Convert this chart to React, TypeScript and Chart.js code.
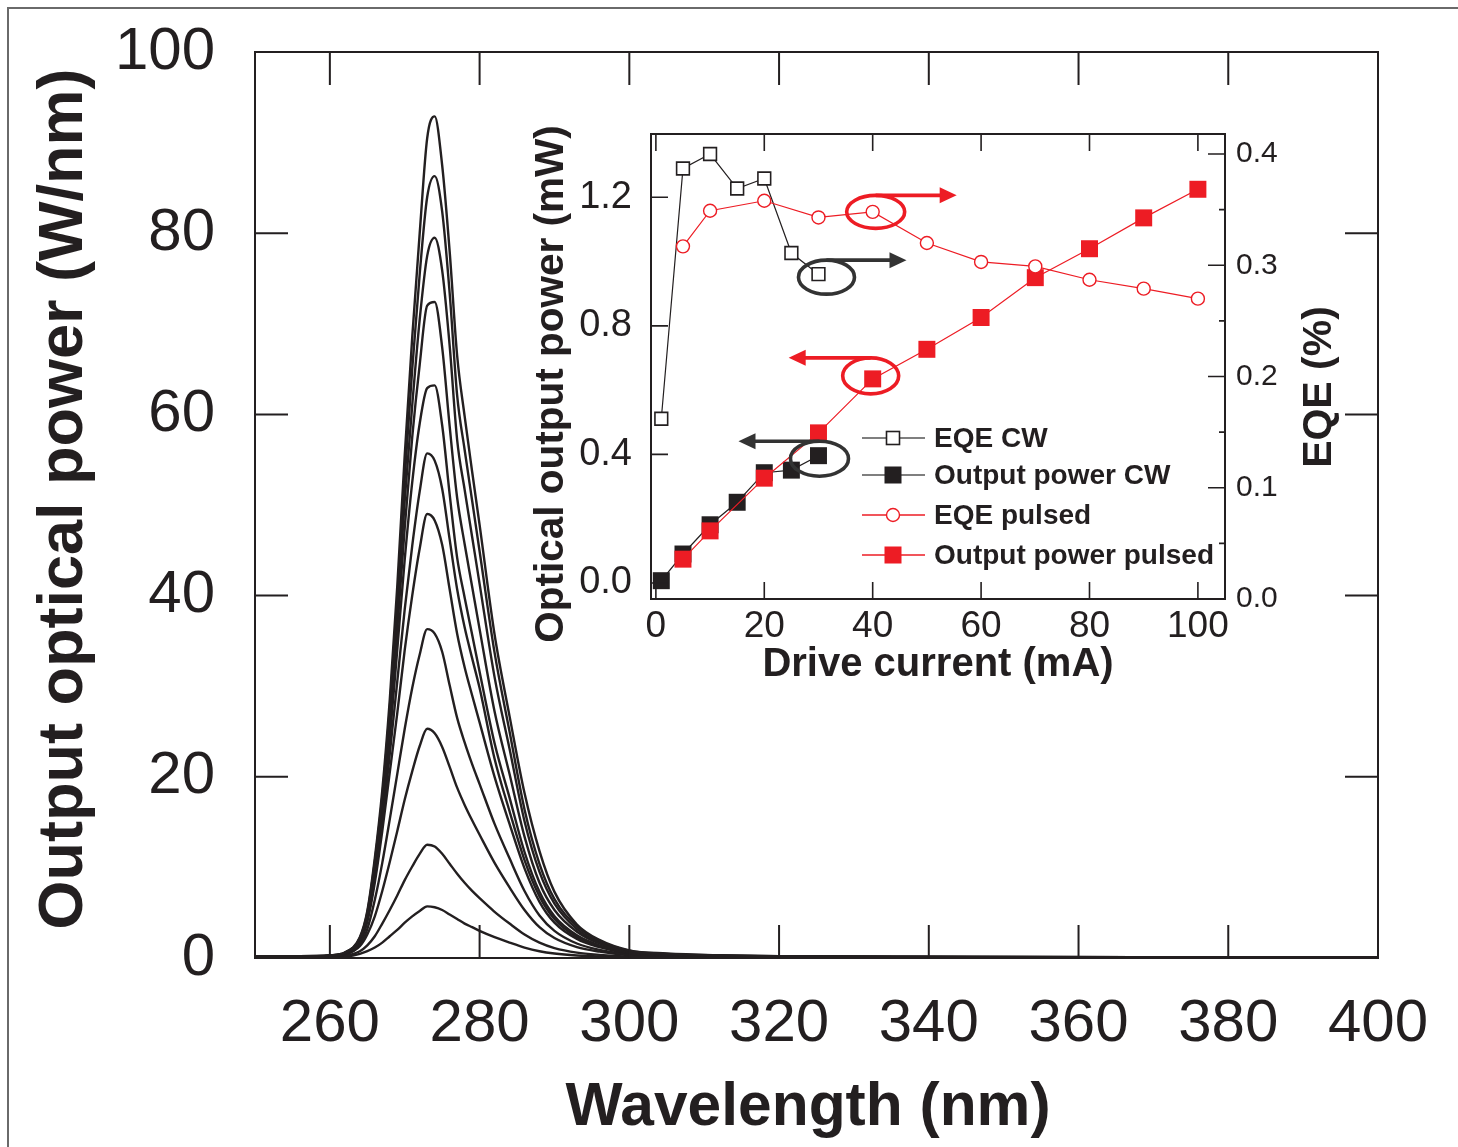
import React, { useEffect, useRef } from 'react';
import { Chart, registerables } from 'chart.js';

Chart.register(...registerables);

const INK = '#231F20';
const RED = '#ED1C24';
const FONT = "'Liberation Sans', Arial, Helvetica, sans-serif";

// ---------- Main chart: emission spectra ----------
const wavelengthNm = [250, 256, 260, 262, 264, 265, 266, 267, 268, 269, 270, 271, 272, 273, 274, 275, 276, 277, 278, 279, 280, 282, 284, 286, 288, 290, 293, 296, 300, 305, 312, 320, 340, 370, 400];

const spectrum1 = [0.2, 0.2, 0.3, 0.6, 2.3, 5.2, 11.0, 18.5, 28.5, 41.0, 55.5, 68.5, 80.0, 90.5, 92.9, 87.5, 78.0, 66.5, 59.8, 53.7, 47.8, 35.7, 26.7, 18.2, 11.8, 7.3, 3.7, 2.0, 0.85, 0.5, 0.3, 0.2, 0.14, 0.1, 0.1];
const spectrum2 = [0.2, 0.2, 0.3, 0.6, 2.2, 5.0, 10.6, 17.8, 27.5, 39.5, 53.0, 65.0, 75.5, 84.0, 86.3, 82.4, 73.4, 62.1, 56.1, 50.5, 44.9, 33.7, 25.0, 16.4, 10.4, 6.5, 3.5, 1.9, 0.8, 0.45, 0.28, 0.19, 0.13, 0.09, 0.09];
const spectrum3 = [0.15, 0.15, 0.25, 0.55, 2.1, 4.8, 10.2, 17.1, 26.5, 38.0, 50.5, 61.0, 70.5, 77.5, 79.5, 75.9, 67.6, 57.2, 51.7, 46.5, 41.3, 31.0, 23.1, 15.1, 9.5, 6.0, 3.2, 1.7, 0.7, 0.4, 0.25, 0.17, 0.12, 0.08, 0.08];
const spectrum4 = [0.15, 0.15, 0.22, 0.55, 2.0, 4.6, 9.8, 16.5, 25.5, 36.2, 47.5, 57.5, 65.5, 72.0, 72.4, 67.4, 58.7, 50.8, 45.7, 41.0, 36.3, 27.2, 20.3, 13.4, 8.3, 5.3, 2.9, 1.6, 0.65, 0.37, 0.23, 0.15, 0.11, 0.07, 0.07];
const spectrum5 = [0.13, 0.13, 0.2, 0.5, 1.9, 4.4, 9.3, 15.7, 24.2, 34.0, 44.0, 52.5, 59.0, 62.9, 63.2, 58.8, 51.2, 44.2, 39.8, 35.7, 31.6, 23.7, 17.7, 11.7, 7.3, 4.6, 2.5, 1.4, 0.57, 0.32, 0.2, 0.13, 0.1, 0.06, 0.06];
const spectrum6 = [0.11, 0.11, 0.2, 0.5, 1.8, 4.2, 8.8, 14.9, 22.5, 30.5, 38.5, 45.5, 51.5, 55.7, 54.9, 51.8, 46.2, 40.7, 36.5, 33.1, 29.8, 22.0, 16.2, 10.8, 6.8, 4.3, 2.3, 1.3, 0.55, 0.3, 0.18, 0.12, 0.09, 0.06, 0.05];
const spectrum7 = [0.1, 0.1, 0.18, 0.45, 1.7, 4.0, 8.3, 14.0, 20.5, 27.0, 34.0, 40.0, 45.2, 49.0, 48.3, 45.6, 40.7, 35.8, 32.1, 29.0, 26.0, 20.0, 14.8, 9.9, 6.2, 3.9, 2.1, 1.2, 0.5, 0.27, 0.16, 0.11, 0.08, 0.05, 0.05];
const spectrum8 = [0.08, 0.08, 0.15, 0.4, 1.45, 3.2, 6.4, 10.5, 15.3, 20.3, 25.3, 29.8, 33.5, 36.3, 35.8, 33.8, 30.1, 26.5, 23.8, 21.4, 19.2, 14.8, 11.0, 7.4, 4.7, 3.0, 1.6, 0.9, 0.4, 0.2, 0.12, 0.08, 0.06, 0.04, 0.04];
const spectrum9 = [0.07, 0.07, 0.12, 0.35, 1.3, 2.6, 4.6, 7.4, 10.6, 14.0, 17.5, 20.6, 23.4, 25.3, 24.8, 23.3, 21.1, 18.8, 16.9, 15.2, 13.6, 10.5, 7.8, 5.3, 3.4, 2.2, 1.2, 0.7, 0.3, 0.15, 0.09, 0.06, 0.05, 0.03, 0.03];
const spectrum10 = [0.04, 0.04, 0.07, 0.22, 0.75, 1.4, 2.4, 3.8, 5.3, 6.9, 8.6, 10.1, 11.5, 12.5, 12.3, 11.5, 10.4, 9.3, 8.3, 7.4, 6.6, 5.1, 3.8, 2.6, 1.7, 1.1, 0.6, 0.35, 0.15, 0.08, 0.05, 0.04, 0.03, 0.02, 0.02];
const spectrum11 = [0.02, 0.02, 0.04, 0.12, 0.45, 0.75, 1.15, 1.7, 2.4, 3.1, 3.9, 4.6, 5.2, 5.7, 5.6, 5.3, 4.8, 4.3, 3.8, 3.4, 3.0, 2.3, 1.7, 1.15, 0.75, 0.5, 0.28, 0.16, 0.08, 0.04, 0.03, 0.02, 0.02, 0.01, 0.01];

const spectra = [spectrum1, spectrum2, spectrum3, spectrum4, spectrum5, spectrum6, spectrum7, spectrum8, spectrum9, spectrum10, spectrum11];

const mainXTicks = [260, 280, 300, 320, 340, 360, 380, 400];
const mainYTicks = [0, 20, 40, 60, 80, 100];

// ---------- Inset: drive current dependence ----------
const currentCw = [1, 5, 10, 15, 20, 25, 30];
const eqeCw = [0.162, 0.387, 0.4, 0.369, 0.378, 0.311, 0.292];
const powerCw = [0.007, 0.09, 0.181, 0.251, 0.343, 0.351, 0.396];

const currentPulsed = [5, 10, 20, 30, 40, 50, 60, 70, 80, 90, 100];
const eqePulsed = [0.317, 0.349, 0.358, 0.343, 0.348, 0.32, 0.303, 0.299, 0.287, 0.279, 0.27];
const powerPulsed = [0.074, 0.162, 0.326, 0.467, 0.635, 0.727, 0.826, 0.95, 1.04, 1.136, 1.225];

const insetXTicks = [0, 20, 40, 60, 80, 100];
const powerTicks = [0, 0.4, 0.8, 1.2];
const eqeTicks = [0, 0.1, 0.2, 0.3, 0.4];
const eqeMinorTicks = [0.05, 0.15, 0.25, 0.35];

const legendLabels = ['EQE CW', 'Output power CW', 'EQE pulsed', 'Output power pulsed'];

function fixBox(size: { width?: number; height?: number }) {
  return (s: any) => {
    if (size.width !== undefined) s.width = size.width;
    if (size.height !== undefined) s.height = size.height;
    s.paddingTop = 0;
    s.paddingBottom = 0;
    s.paddingLeft = 0;
    s.paddingRight = 0;
  };
}

function drawText(ctx: CanvasRenderingContext2D, text: string, x: number, y: number, size: number, rotate: boolean) {
  ctx.save();
  ctx.translate(x, y);
  if (rotate) ctx.rotate(-Math.PI / 2);
  ctx.font = `bold ${size}px ${FONT}`;
  ctx.fillStyle = INK;
  ctx.textAlign = 'center';
  ctx.textBaseline = 'middle';
  ctx.fillText(text, 0, 0);
  ctx.restore();
}

const mainFramePlugin = {
  id: 'mainFrame',
  afterDatasetsDraw(chart: any) {
    const { ctx, chartArea: a, scales } = chart;
    ctx.save();
    ctx.strokeStyle = INK;
    ctx.lineWidth = 2;
    ctx.strokeRect(a.left, a.top, a.right - a.left, a.bottom - a.top);
    ctx.beginPath();
    const len = 33;
    mainXTicks.forEach((v) => {
      const px = scales.x.getPixelForValue(v);
      ctx.moveTo(px, a.bottom);
      ctx.lineTo(px, a.bottom - len);
      ctx.moveTo(px, a.top);
      ctx.lineTo(px, a.top + len);
    });
    mainYTicks.forEach((v) => {
      const py = scales.y.getPixelForValue(v);
      ctx.moveTo(a.left, py);
      ctx.lineTo(a.left + len, py);
      ctx.moveTo(a.right, py);
      ctx.lineTo(a.right - len, py);
    });
    ctx.stroke();
    ctx.restore();

    drawText(ctx, 'Wavelength (nm)', a.left + 553, a.bottom + 150, 60.5, false);
    drawText(ctx, 'Output optical power (W/nm)', a.left - 190, a.top + 447, 63, true);
  },
};

function ellipseArrow(ctx: CanvasRenderingContext2D, cx: number, cy: number, rx: number, ry: number, dir: number, len: number, color: string) {
  ctx.save();
  ctx.strokeStyle = color;
  ctx.fillStyle = color;
  ctx.lineWidth = 3.6;
  ctx.beginPath();
  ctx.ellipse(cx, cy, rx, ry, 0, 0, Math.PI * 2);
  ctx.stroke();
  const ay = cy - ry;
  const tip = cx + dir * len;
  ctx.beginPath();
  ctx.moveTo(cx, ay);
  ctx.lineTo(tip - dir * 12, ay);
  ctx.stroke();
  ctx.beginPath();
  ctx.moveTo(tip, ay);
  ctx.lineTo(tip - dir * 17, ay - 8);
  ctx.lineTo(tip - dir * 17, ay + 8);
  ctx.closePath();
  ctx.fill();
  ctx.restore();
}

const insetDecorPlugin = {
  id: 'insetDecor',
  afterDatasetsDraw(chart: any) {
    const { ctx, chartArea: a, scales } = chart;
    const sx = scales.x;
    const yl = scales.y;
    const yr = scales.y2;
    ctx.save();
    ctx.strokeStyle = INK;
    ctx.lineWidth = 2;
    ctx.strokeRect(a.left, a.top, a.right - a.left, a.bottom - a.top);
    ctx.beginPath();
    const len = 17;
    insetXTicks.forEach((v) => {
      const px = sx.getPixelForValue(v);
      ctx.moveTo(px, a.bottom);
      ctx.lineTo(px, a.bottom - len);
      ctx.moveTo(px, a.top);
      ctx.lineTo(px, a.top + len);
    });
    powerTicks.forEach((v) => {
      const py = yl.getPixelForValue(v);
      ctx.moveTo(a.left, py);
      ctx.lineTo(a.left + len, py);
    });
    eqeTicks.forEach((v) => {
      const py = yr.getPixelForValue(v);
      ctx.moveTo(a.right, py);
      ctx.lineTo(a.right - len, py);
    });
    eqeMinorTicks.forEach((v) => {
      const py = yr.getPixelForValue(v);
      ctx.moveTo(a.right, py);
      ctx.lineTo(a.right - 6, py);
    });
    ctx.lineWidth = 1.6;
    ctx.stroke();
    ctx.restore();

    // ellipses with arrows, anchored to data points
    const iP40 = currentPulsed.indexOf(40);
    const iC30 = currentCw.indexOf(30);
    ellipseArrow(ctx, sx.getPixelForValue(40) + 3, yr.getPixelForValue(eqePulsed[iP40]), 29, 16.5, 1, 81, RED);
    ellipseArrow(ctx, sx.getPixelForValue(30) + 8, yr.getPixelForValue(eqeCw[iC30]) + 3, 28, 17, 1, 80, '#333333');
    ellipseArrow(ctx, sx.getPixelForValue(40) - 2, yl.getPixelForValue(powerPulsed[iP40]) - 3, 28, 18, -1, 82, RED);
    ellipseArrow(ctx, sx.getPixelForValue(30) + 1, yl.getPixelForValue(powerCw[iC30]) + 3, 29, 17.5, -1, 81, '#333333');

    // legend
    ctx.save();
    const lx0 = a.left + 211;
    const lx1 = a.left + 274;
    const mx = a.left + 242;
    const tx = a.left + 283;
    const rows = [304, 341, 381, 421];
    ctx.font = `bold 28px ${FONT}`;
    ctx.textBaseline = 'middle';
    ctx.textAlign = 'left';
    legendLabels.forEach((label, i) => {
      const y = a.top + rows[i];
      const isRed = i >= 2;
      ctx.strokeStyle = isRed ? RED : '#555555';
      ctx.lineWidth = 1.3;
      ctx.beginPath();
      ctx.moveTo(lx0, y);
      ctx.lineTo(lx1, y);
      ctx.stroke();
      if (i === 0) {
        ctx.fillStyle = '#ffffff';
        ctx.fillRect(mx - 6.5, y - 6.5, 13, 13);
        ctx.strokeStyle = INK;
        ctx.lineWidth = 1.6;
        ctx.strokeRect(mx - 6.5, y - 6.5, 13, 13);
      } else if (i === 1) {
        ctx.fillStyle = INK;
        ctx.fillRect(mx - 8.5, y - 8.5, 17, 17);
      } else if (i === 2) {
        ctx.fillStyle = '#ffffff';
        ctx.beginPath();
        ctx.arc(mx, y, 6.5, 0, Math.PI * 2);
        ctx.fill();
        ctx.strokeStyle = RED;
        ctx.lineWidth = 1.4;
        ctx.stroke();
      } else {
        ctx.fillStyle = RED;
        ctx.fillRect(mx - 8.5, y - 8.5, 17, 17);
      }
      ctx.fillStyle = INK;
      ctx.fillText(label, tx, y + 1);
    });
    ctx.restore();

    // axis titles that read bottom to top
    drawText(ctx, 'Optical output power (mW)', a.left - 99, a.top + 250, 40.5, true);
    drawText(ctx, 'EQE (%)', a.right + 95, a.top + 253, 41, true);
  },
};

export default function App() {
  const mainRef = useRef<HTMLCanvasElement>(null);
  const insetRef = useRef<HTMLCanvasElement>(null);

  useEffect(() => {
    const main = new Chart(mainRef.current as HTMLCanvasElement, {
      type: 'line',
      data: {
        datasets: spectra.map((s) => ({
          data: wavelengthNm.map((w, i) => ({ x: w, y: s[i] })),
          borderColor: INK,
          borderWidth: 2.4,
          pointRadius: 0,
          fill: false,
          cubicInterpolationMode: 'monotone' as const,
        })),
      },
      options: {
        responsive: false,
        animation: false,
        devicePixelRatio: 1,
        events: [],
        layout: { padding: { top: 44, right: 72, left: 0, bottom: 0 } },
        plugins: { legend: { display: false }, tooltip: { enabled: false } },
        scales: {
          x: {
            type: 'linear',
            min: 250,
            max: 400,
            grid: { display: false, drawTicks: false },
            border: { display: false },
            afterBuildTicks: (s: any) => {
              s.ticks = mainXTicks.map((v) => ({ value: v }));
            },
            afterFit: fixBox({ height: 181 }),
            ticks: {
              color: INK,
              autoSkip: false,
              maxRotation: 0,
              padding: 36,
              font: { family: FONT, size: 60, lineHeight: 1 },
            },
          },
          y: {
            type: 'linear',
            min: 0,
            max: 100,
            grid: { display: false, drawTicks: false },
            border: { display: false },
            afterBuildTicks: (s: any) => {
              s.ticks = mainYTicks.map((v) => ({ value: v }));
            },
            afterFit: fixBox({ width: 247 }),
            ticks: {
              color: INK,
              autoSkip: false,
              padding: 40,
              font: { family: FONT, size: 60, lineHeight: 1 },
            },
          },
        },
      },
      plugins: [mainFramePlugin],
    } as any);

    const inset = new Chart(insetRef.current as HTMLCanvasElement, {
      type: 'line',
      data: {
        datasets: [
          {
            label: 'EQE pulsed',
            yAxisID: 'y2',
            data: currentPulsed.map((c, i) => ({ x: c, y: eqePulsed[i] })),
            borderColor: RED,
            borderWidth: 1.2,
            pointStyle: 'circle',
            pointRadius: 6.5,
            pointBorderWidth: 1.4,
            pointBackgroundColor: '#ffffff',
            pointBorderColor: RED,
            tension: 0,
          },
          {
            label: 'Output power pulsed',
            yAxisID: 'y',
            data: currentPulsed.map((c, i) => ({ x: c, y: powerPulsed[i] })),
            borderColor: RED,
            borderWidth: 1.2,
            pointStyle: 'rect',
            pointRadius: 12,
            pointBorderWidth: 0,
            pointBackgroundColor: RED,
            pointBorderColor: RED,
            tension: 0,
          },
          {
            label: 'EQE CW',
            yAxisID: 'y2',
            data: currentCw.map((c, i) => ({ x: c, y: eqeCw[i] })),
            borderColor: INK,
            borderWidth: 1.2,
            pointStyle: 'rect',
            pointRadius: 9,
            pointBorderWidth: 1.6,
            pointBackgroundColor: '#ffffff',
            pointBorderColor: INK,
            tension: 0,
          },
          {
            label: 'Output power CW',
            yAxisID: 'y',
            data: currentCw.map((c, i) => ({ x: c, y: powerCw[i] })),
            borderColor: INK,
            borderWidth: 1.2,
            pointStyle: 'rect',
            pointRadius: 12,
            pointBorderWidth: 0,
            pointBackgroundColor: INK,
            pointBorderColor: INK,
            tension: 0,
          },
        ],
      },
      options: {
        responsive: false,
        animation: false,
        devicePixelRatio: 1,
        events: [],
        layout: { padding: { top: 24, right: 0, left: 0, bottom: 0 } },
        plugins: { legend: { display: false }, tooltip: { enabled: false } },
        scales: {
          x: {
            type: 'linear',
            min: -0.9,
            max: 105,
            grid: { display: false, drawTicks: false },
            border: { display: false },
            afterBuildTicks: (s: any) => {
              s.ticks = insetXTicks.map((v) => ({ value: v }));
            },
            afterFit: fixBox({ height: 101 }),
            ticks: {
              color: INK,
              autoSkip: false,
              maxRotation: 0,
              padding: 9,
              font: { family: FONT, size: 37, lineHeight: 1 },
            },
            title: {
              display: true,
              text: 'Drive current (mA)',
              color: INK,
              font: { family: FONT, size: 40, weight: 'bold', lineHeight: 1 },
              padding: { top: 0, bottom: 15 },
            },
          },
          y: {
            type: 'linear',
            position: 'left',
            min: -0.05,
            max: 1.397,
            grid: { display: false, drawTicks: false },
            border: { display: false },
            afterBuildTicks: (s: any) => {
              s.ticks = powerTicks.map((v) => ({ value: v }));
            },
            afterFit: fixBox({ width: 126 }),
            ticks: {
              color: INK,
              autoSkip: false,
              padding: 19,
              font: { family: FONT, size: 38, lineHeight: 1 },
              callback: (v: any) => Number(v).toFixed(1),
            },
          },
          y2: {
            type: 'linear',
            position: 'right',
            min: 0,
            max: 0.418,
            grid: { display: false, drawTicks: false },
            border: { display: false },
            afterBuildTicks: (s: any) => {
              s.ticks = eqeTicks.map((v) => ({ value: v }));
            },
            afterFit: fixBox({ width: 140 }),
            ticks: {
              color: INK,
              autoSkip: false,
              padding: 11,
              font: { family: FONT, size: 30, lineHeight: 1 },
              callback: (v: any) => Number(v).toFixed(1),
            },
          },
        },
      },
      plugins: [insetDecorPlugin],
    } as any);

    return () => {
      main.destroy();
      inset.destroy();
    };
  }, []);

  return (
    <div style={{ position: 'relative', width: 1442, height: 1131 }}>
      <div
        style={{
          position: 'fixed',
          left: 7,
          top: 7,
          right: 0,
          bottom: 0,
          borderTop: '2px solid #6a6a6a',
          borderLeft: '2px solid #6a6a6a',
          pointerEvents: 'none',
        }}
      />
      <canvas ref={mainRef} width={1442} height={1131} style={{ position: 'absolute', left: 0, top: 0 }} />
      <canvas ref={insetRef} width={840} height={590} style={{ position: 'absolute', left: 517, top: 102 }} />
    </div>
  );
}
